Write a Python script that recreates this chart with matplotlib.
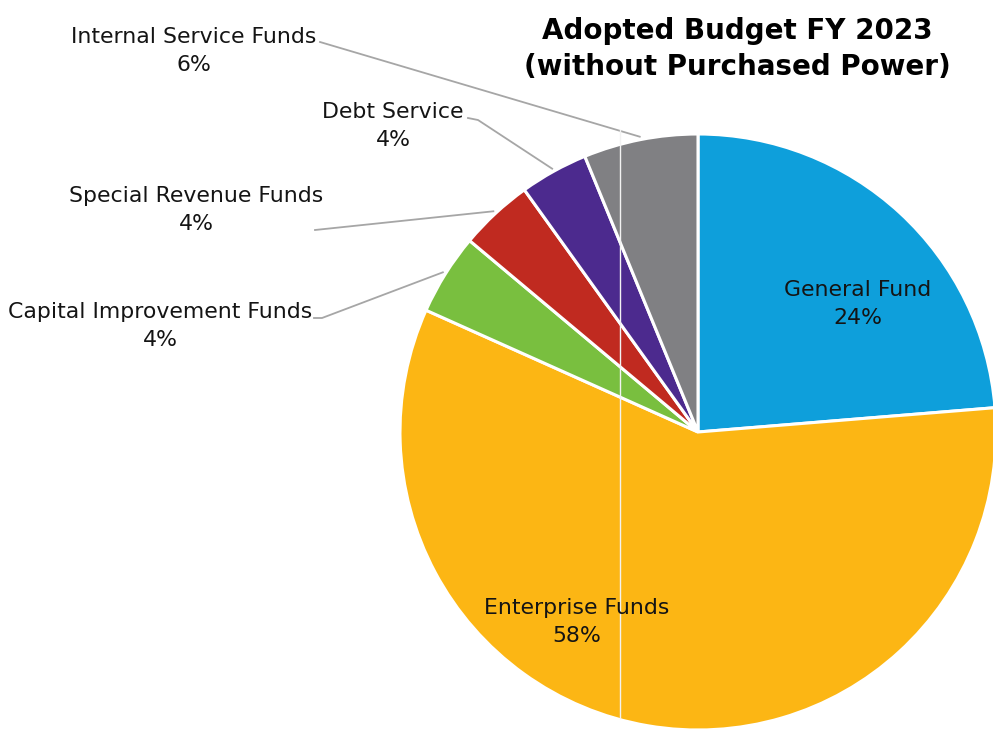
import numpy as np
import matplotlib
matplotlib.use('Agg')
import matplotlib.pyplot as plt

# budget shares, percent
funds = ['General Fund', 'Enterprise Funds', 'Capital Improvement Funds',
         'Special Revenue Funds', 'Debt Service', 'Internal Service Funds']
shares = [23.7, 58.0, 4.4, 4.0, 3.7, 6.2]
colors = ['#0e9fdb', '#fcb614', '#79bf3f', '#c02a20', '#4c2a8e', '#808083']

W, H = 993, 735
fig = plt.figure(figsize=(W / 100, H / 100), dpi=100)
ax = fig.add_axes([0, 0, 1, 1])

cx, cy, R = 698, H - 432, 298
wedges, _ = ax.pie(shares, colors=colors, startangle=90, counterclock=False,
                   center=(cx, cy), radius=R, frame=True,
                   wedgeprops=dict(edgecolor='white', linewidth=2.2))
ax.set_xlim(0, W)
ax.set_ylim(0, H)
ax.axis('off')

plt.rcParams['font.family'] = 'DejaVu Sans'
txt = dict(fontsize=15.8, color='#141414', ha='center', va='center', linespacing=1.5)

def pct(v):
    return f'{round(v)}%'

# labels inside the two big slices
ax.text(858, H - 304, f'{funds[0]}\n{pct(shares[0])}', **txt)
ax.text(577, H - 622, f'{funds[1]}\n{pct(shares[1])}', **txt)

# outside labels with leader lines: (label centre, elbow points)
outside = {
    2: ((160, 326), [(314, 318), (322, 318)]),
    3: ((196, 210), [(315, 230)]),
    4: ((393, 126), [(468, 118), (478, 120)]),
    5: ((194, 51), [(320, 42)]),
}
for i, ((lx, ly), elbow) in outside.items():
    w = wedges[i]
    mid = np.deg2rad((w.theta1 + w.theta2) / 2)
    tip = (cx + (R + 3) * np.cos(mid), cy + (R + 3) * np.sin(mid))
    xs = [p[0] for p in elbow] + [tip[0]]
    ys = [H - p[1] for p in elbow] + [tip[1]]
    ax.plot(xs, ys, color='#a6a6a6', lw=1.3)
    ax.text(lx, H - ly, f'{funds[i]}\n{pct(shares[i])}', **txt)

ax.text(737, H - 49, 'Adopted Budget FY 2023\n(without Purchased Power)',
        fontsize=20, fontweight='bold', color='black', ha='center', va='center',
        linespacing=1.35)

# thin light seam down the chart
ax.plot([620, 620], [H - 130, H - 718], color='#f2f2f2', lw=1.0)

fig.savefig('out.png', dpi=100)
